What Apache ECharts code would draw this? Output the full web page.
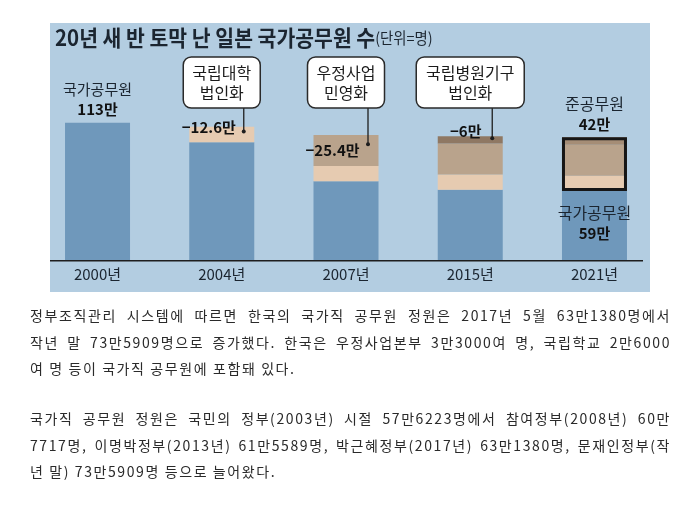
<!DOCTYPE html>
<html><head><meta charset="utf-8">
<script src="https://cdn.jsdelivr.net/npm/echarts@6/dist/echarts.min.js"></script>
<style>
html,body{margin:0;padding:0;background:#fff;}
#c{position:absolute;left:0;top:0;width:688px;height:509px;}
.p{position:absolute;left:30px;width:641px;font-family:"Noto Sans CJK KR";font-size:14px;line-height:26.7px;color:#2a2a2a;letter-spacing:1.6px;}
.p div{white-space:nowrap;}
.p .j{text-align:justify;text-align-last:justify;}
</style></head><body>
<div id="c"></div>
<div class="p" id="p1" style="top:302px"></div>
<div class="p" id="p2" style="top:405px"></div>
<script>
// ---- data (단위: 만 명) ----
const categories = ['2000년', '2004년', '2007년', '2015년', '2021년'];
const remaining = [113, 97, 65, 58, 57];          // 국가공무원 (blue)
const cutUniversity = [null, 12.6, 12.6, 12.6, 12.6]; // 국립대학 법인화
const cutPostal = [null, null, 25.4, 25.4, 25.4];     // 우정사업 민영화
const cutHospital = [null, null, null, 6, 6];         // 국립병원기구 법인화
const nationalLabels = ['113만', null, null, null, '59만'];
const quasiLabel = '42만';
const quasiIndex = 4;
const titleText = '20년 새 반 토막 난 일본 국가공무원 수';
const unitText = '(단위=명)';
const callouts = [
  {series: 1, cat: 1, lines: ['국립대학', '법인화'], w: 77},
  {series: 2, cat: 2, lines: ['우정사업', '민영화'], w: 77},
  {series: 3, cat: 3, lines: ['국립병원기구', '법인화'], w: 108}
];
const para1 = [
  '정부조직관리 시스템에 따르면 한국의 국가직 공무원 정원은 2017년 5월 63만1380명에서',
  '작년 말 73만5909명으로 증가했다. 한국은 우정사업본부 3만3000여 명, 국립학교 2만6000',
  '여 명 등이 국가직 공무원에 포함돼 있다.'
];
const para2 = [
  '국가직 공무원 정원은 국민의 정부(2003년) 시절 57만6223명에서 참여정부(2008년) 60만',
  '7717명, 이명박정부(2013년) 61만5589명, 박근혜정부(2017년) 63만1380명, 문재인정부(작',
  '년 말) 73만5909명 등으로 늘어왔다.'
];

function fillPara(id, lines){
  const el = document.getElementById(id);
  lines.forEach((t, i) => {
    const d = document.createElement('div');
    if (i < lines.length - 1) d.className = 'j';
    d.textContent = t;
    el.appendChild(d);
  });
}
fillPara('p1', para1);
fillPara('p2', para2);

const FONT = '"Noto Sans CJK KR", "Noto Sans", sans-serif';
const INK = '#1b2530';
const C_BLUE = '#6f98bb', C_PEACH = '#e6cbb1', C_TAUPE = '#b9a38c', C_BROWN = '#8f7863', C_BROWN2 = '#a58d76';

const richNat = {
  n: {fontSize: 15, color: INK, lineHeight: 23, fontFamily: FONT},
  n2: {fontSize: 16, color: INK, lineHeight: 23, fontFamily: FONT},
  v: {fontSize: 15, fontWeight: 'bold', color: '#111', lineHeight: 18, fontFamily: FONT}
};

const blueData = remaining.map((v, i) => {
  const item = {value: v};
  if (nationalLabels[i]) {
    if (i === 0) {
      item.label = {show: true, position: 'top', distance: 4, formatter: '{n|국가공무원}\n{v|' + nationalLabels[i] + '}', rich: richNat};
    } else {
      item.label = {show: true, position: 'insideTop', distance: 10, formatter: '{n2|국가공무원}\n{v|' + nationalLabels[i] + '}', rich: richNat};
    }
  }
  return item;
});

const cutLabelStyle = {fontSize: 15, fontWeight: 'bold', color: '#111', fontFamily: FONT};
function cutData(arr, labelIdx, offset, colorOverride){
  return arr.map((v, i) => {
    if (v == null) return '-';
    const item = {value: v};
    if (i === labelIdx) {
      item.label = Object.assign({show: true, position: 'inside', offset: offset,
        formatter: p => '\u2212' + p.value + '만'}, cutLabelStyle);
    }
    if (colorOverride && colorOverride[i]) item.itemStyle = {color: colorOverride[i]};
    return item;
  });
}

const quasiTotal = (cutUniversity[quasiIndex] || 0) + (cutPostal[quasiIndex] || 0) + (cutHospital[quasiIndex] || 0);
const quasiBase = categories.map((c, i) => i === quasiIndex ? remaining[i] : '-');
const quasiBox = categories.map((c, i) => i === quasiIndex ? quasiTotal : '-');

const chart = echarts.init(document.getElementById('c'));
chart.setOption({
  animation: false,
  backgroundColor: 'transparent',
  grid: {left: 35.4, top: 65.3, width: 621.2, height: 195.4},
  xAxis: {type: 'category', data: categories, axisLine: {show: false}, axisTick: {show: false},
    axisLabel: {fontSize: 15, color: INK, margin: 6, fontFamily: FONT}},
  yAxis: {type: 'value', min: 0, max: 160, show: false, splitLine: {show: false}},
  series: [
    {type: 'bar', stack: 'a', barWidth: 65, barGap: '-100%', data: blueData, itemStyle: {color: C_BLUE}, z: 2},
    {type: 'bar', stack: 'a', barWidth: 65, barGap: '-100%', data: cutData(cutUniversity, 1, [-13, -7]), itemStyle: {color: C_PEACH}, z: 2},
    {type: 'bar', stack: 'a', barWidth: 65, barGap: '-100%', data: cutData(cutPostal, 2, [-13.5, 0]), itemStyle: {color: C_TAUPE}, z: 2},
    {type: 'bar', stack: 'a', barWidth: 65, barGap: '-100%', data: cutData(cutHospital, 3, [-4.5, -8], {4: C_BROWN2}), itemStyle: {color: C_BROWN}, z: 2},
    {type: 'bar', stack: 'b', barWidth: 65, barGap: '-100%', data: quasiBase, itemStyle: {color: 'transparent'}, silent: true, z: 3},
    {type: 'bar', stack: 'b', barWidth: 65, barGap: '-100%', data: quasiBox, z: 3,
      itemStyle: {color: 'transparent', borderColor: '#161616', borderWidth: 3},
      label: {show: true, position: 'top', distance: 4, formatter: '{n|준공무원}\n{v|' + quasiLabel + '}',
        rich: {n: {fontSize: 16, color: INK, lineHeight: 23, fontFamily: FONT}, v: richNat.v}}}
  ]
});

// post-layout annotations
const seriesArrays = [remaining, cutUniversity, cutPostal, cutHospital];
function stackBottom(s, i){ let b = 0; for (let k = 0; k < s; k++) b += (seriesArrays[k][i] || 0); return b; }
function toPx(i, v){ return chart.convertToPixel({gridIndex: 0}, [categories[i], v]); }

const y0 = toPx(0, 0)[1];
const graphics = [
  {type: 'rect', z: -10, shape: {x: 50, y: 23, width: 600, height: 269}, style: {fill: '#b3cde1'}},
  {type: 'line', z: 10, shape: {x1: 50, y1: y0, x2: 643, y2: y0}, style: {stroke: '#1e1e1e', lineWidth: 1.5}},
  {type: 'text', z: 10, x: 55, y: 38, scaleX: 0.93,
    style: {text: '{a|' + titleText + '}{b|' + unitText + '}', textVerticalAlign: 'middle', textAlign: 'left',
      rich: {a: {fontSize: 22, fontWeight: 'bold', fill: INK, fontFamily: FONT}, b: {fontSize: 15.5, fill: INK, fontFamily: FONT}}}}
];
callouts.forEach(c => {
  const bottom = stackBottom(c.series, c.cat);
  const val = seriesArrays[c.series][c.cat];
  const top = bottom + val;
  const pTop = toPx(c.cat, top);
  const pBot = toPx(c.cat, bottom);
  const cx = pTop[0];
  const dotY = pTop[1] + (pBot[1] - pTop[1]) * 0.3;
  const dotX = cx + 22;
  const boxTop = 57, boxH = 51;
  graphics.push(
    {type: 'line', z: 20, shape: {x1: dotX, y1: boxTop + boxH, x2: dotX, y2: dotY}, style: {stroke: '#1e1e1e', lineWidth: 1.3}},
    {type: 'circle', z: 21, shape: {cx: dotX, cy: dotY, r: 2}, style: {fill: '#1e1e1e'}},
    {type: 'rect', z: 22, shape: {x: cx - c.w / 2, y: boxTop, width: c.w, height: boxH, r: 8},
      style: {fill: '#ffffff', stroke: '#2a2a2a', lineWidth: 1.5}},
    {type: 'text', z: 23, x: cx, y: boxTop + boxH / 2,
      style: {text: c.lines.join('\n'), fontSize: 16, lineHeight: 20, fill: '#1b1b1b', fontFamily: FONT,
        textAlign: 'center', textVerticalAlign: 'middle'}}
  );
});
chart.setOption({graphic: graphics});
</script>
</body></html>
